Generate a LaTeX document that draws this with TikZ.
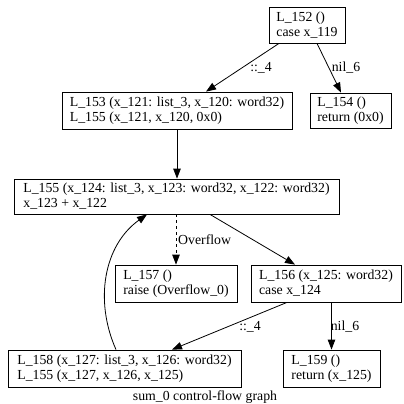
\documentclass[tikz,border=0pt]{standalone}
\usepackage{fontspec}
\setmainfont{Liberation Serif}
\usepackage{tikz}
\usetikzlibrary{arrows.meta,calc}

\begin{document}
\begin{tikzpicture}[
  x=1pt, y=-1pt,
  font=\fontsize{13.8}{15}\selectfont,
  block/.style={draw, line width=0.8pt, align=left, inner sep=0pt},
  arrow/.style={-{Triangle[length=10pt,width=7.5pt]}, line width=0.8pt},
  elabel/.style={inner sep=1pt}
]
\useasboundingbox (0,0) rectangle (404,404);
\node[block, minimum width=76, minimum height=36] (l152) at (307,25) {L\_152 ()\\case x\_119};
\node[block, minimum width=230, minimum height=37] (l153) at (177,110.5) {L\_153 (x\_121: list\_3, x\_120: word32)\\L\_155 (x\_121, x\_120, 0x0)};
\node[block, minimum width=81, minimum height=35] (l154) at (350.5,110.5) {L\_154 ()\\return (0x0)};
\node[block, minimum width=325, minimum height=35] (l155) at (176.5,196.5) {L\_155 (x\_124: list\_3, x\_123: word32, x\_122: word32)\\x\_123 + x\_122};
\node[block, minimum width=122, minimum height=37] (l157) at (176,283.5) {L\_157 ()\\raise (Overflow\_0)};
\node[block, minimum width=150, minimum height=37] (l156) at (326,283.5) {L\_156 (x\_125: word32)\\case x\_124};
\node[block, minimum width=233, minimum height=37] (l158) at (124.5,368.5) {L\_158 (x\_127: list\_3, x\_126: word32)\\L\_155 (x\_127, x\_126, x\_125)};
\node[block, minimum width=97, minimum height=37] (l159) at (331.5,368.5) {L\_159 ()\\return (x\_125)};
\node (title) at (205,397) {sum\_0 control-flow graph};
% edges
\draw[arrow] ($(l152.south)+(-28,0)$) -- ($(l153.north)+(29,0)$);
\node[elabel] (lab1) at (261,68) {::\_4};
\draw[arrow] ($(l152.south)+(10,0)$) -- ($(l154.north)+(-9.5,0)$);
\node[elabel] (lab2) at (346,68) {nil\_6};
\draw[arrow] (l153.south) -- (l153.south |- l155.north);
\draw[arrow, dashed] (l157.north |- l155.south) -- (l157.north);
\node[elabel, anchor=west] (lab3) at (177,240) {Overflow};
\draw[arrow] ($(l155.south)+(33.5,0)$) -- ($(l156.north)+(-31,0)$);
\draw[arrow] ($(l156.south)+(-39,0)$) -- ($(l158.north)+(47.5,0)$);
\node[elabel] (lab4) at (250,327) {::\_4};
\draw[arrow] (l159.north |- l156.south) -- (l159.north);
\node[elabel] (lab5) at (345,327) {nil\_6};
\draw[arrow] ($(l158.north)+(-8.5,0)$) .. controls (94,300) and (104,245) .. ($(l155.south)+(-29.5,0)$);
\end{tikzpicture}
\end{document}
